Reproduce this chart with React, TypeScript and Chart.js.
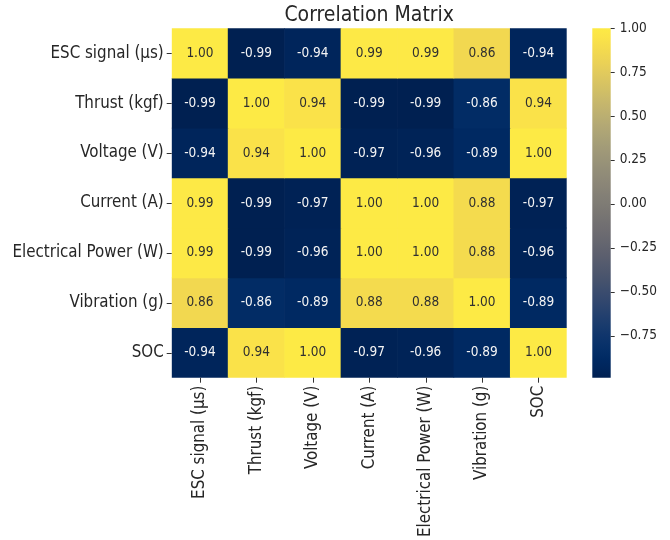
import React, { useEffect, useRef } from "react";
import { Chart, registerables } from "chart.js";

Chart.register(...registerables);

// ---------- data ----------
const chartTitle = "Correlation Matrix";
const rowLabels = [
  "ESC signal (μs)",
  "Thrust (kgf)",
  "Voltage (V)",
  "Current (A)",
  "Electrical Power (W)",
  "Vibration (g)",
  "SOC",
];
const colLabels = [
  "ESC signal (μs)",
  "Thrust (kgf)",
  "Voltage (V)",
  "Current (A)",
  "Electrical Power (W)",
  "Vibration (g)",
  "SOC",
];
const escRow = [1.0, -0.99, -0.94, 0.99, 0.99, 0.86, -0.94];
const thrustRow = [-0.99, 1.0, 0.94, -0.99, -0.99, -0.86, 0.94];
const voltageRow = [-0.94, 0.94, 1.0, -0.97, -0.96, -0.89, 1.0];
const currentRow = [0.99, -0.99, -0.97, 1.0, 1.0, 0.88, -0.97];
const powerRow = [0.99, -0.99, -0.96, 1.0, 1.0, 0.88, -0.96];
const vibrationRow = [0.86, -0.86, -0.89, 0.88, 0.88, 1.0, -0.89];
const socRow = [-0.94, 0.94, 1.0, -0.97, -0.96, -0.89, 1.0];
const matrix = [escRow, thrustRow, voltageRow, currentRow, powerRow, vibrationRow, socRow];
const colorbarTicks = [-0.75, -0.5, -0.25, 0.0, 0.25, 0.5, 0.75, 1.0];
const vmin = -0.99;
const vmax = 1.0;

// ---------- styles ----------
const FONT = "'DejaVu Sans Condensed', 'DejaVu Sans', sans-serif";
const TEXT = "#262626";
const TICK = "#333333";

function cividisRGB(t: number): [number, number, number] {
  t = Math.max(0, Math.min(1, t));
  const r = Math.max(0, Math.min(255, Math.round(-4.54 - t * (35.34 - t * (2381.73 - t * (6402.7 - t * (7024.72 - t * 2710.57)))))));
  const g = Math.max(0, Math.min(255, Math.round(32.49 + t * (170.73 + t * (52.82 - t * (131.46 - t * (176.58 - t * 67.37)))))));
  const b = Math.max(0, Math.min(255, Math.round(81.24 + t * (442.36 - t * (2482.43 - t * (6167.24 - t * (6614.94 - t * 2475.67)))))));
  return [r, g, b];
}
function norm(v: number) {
  return (v - vmin) / (vmax - vmin);
}
function colorFor(v: number) {
  const [r, g, b] = cividisRGB(norm(v));
  return `rgb(${r},${g},${b})`;
}
function textColorFor(v: number) {
  const [r, g, b] = cividisRGB(norm(v)).map((c) => {
    const s = c / 255;
    return s <= 0.03928 ? s / 12.92 : Math.pow((s + 0.055) / 1.055, 2.4);
  });
  const lum = 0.2126 * r + 0.7152 * g + 0.0722 * b;
  return lum > 0.408 ? "#303030" : "#f4f4f4";
}
function fmtTick(v: number) {
  return v.toFixed(2).replace("-", "\u2212");
}

const annotPlugin = {
  id: "annot",
  afterDatasetsDraw(chart: any) {
    const ctx = chart.ctx;
    ctx.save();
    ctx.font = `13.5px ${FONT}`;
    ctx.textAlign = "center";
    ctx.textBaseline = "middle";
    chart.data.datasets.forEach((_ds: any, r: number) => {
      const meta = chart.getDatasetMeta(r);
      meta.data.forEach((el: any, c: number) => {
        const v = matrix[r][c];
        const p = el.getCenterPoint();
        ctx.fillStyle = textColorFor(v);
        ctx.fillText(v.toFixed(2), p.x, p.y);
      });
    });
    ctx.restore();
  },
};

// draws the small tick marks at each tick of each visible scale
const tickMarkPlugin = {
  id: "tickMarks",
  afterDraw(chart: any) {
    const ctx = chart.ctx;
    ctx.save();
    ctx.strokeStyle = TICK;
    ctx.lineWidth = 1;
    Object.values(chart.scales).forEach((s: any) => {
      if (!s.options.display) return;
      const len = s.options.grid.tickLength;
      s.ticks.forEach((_t: any, i: number) => {
        const p = Math.round(s.getPixelForTick(i)) + 0.5;
        ctx.beginPath();
        if (s.position === "left") {
          ctx.moveTo(s.right - len, p);
          ctx.lineTo(s.right, p);
        } else if (s.position === "right") {
          ctx.moveTo(s.left, p);
          ctx.lineTo(s.left + len, p);
        } else if (s.position === "bottom") {
          ctx.moveTo(p, s.top);
          ctx.lineTo(p, s.top + len);
        }
        ctx.stroke();
      });
    });
    ctx.restore();
  },
};

const tickGrid = {
  display: true,
  drawOnChartArea: false,
  drawTicks: true,
  tickLength: 5,
  color: "rgba(0,0,0,0)",
  tickColor: "rgba(0,0,0,0)",
};

export default function App() {
  const heatRef = useRef<HTMLCanvasElement | null>(null);
  const cbRef = useRef<HTMLCanvasElement | null>(null);

  useEffect(() => {
    const heat = new Chart(heatRef.current!, {
      type: "bar",
      data: {
        labels: colLabels,
        datasets: matrix.map((row, r) => ({
          label: rowLabels[r],
          data: row.map(() => [r, r + 1]),
          backgroundColor: row.map((v) => colorFor(v)),
          borderWidth: 0,
          borderSkipped: false,
          grouped: false,
          categoryPercentage: 1,
          barPercentage: 1,
        })) as any,
      },
      options: {
        animation: false,
        responsive: true,
        maintainAspectRatio: false,
        layout: { padding: { left: 0, right: 103.3, top: 0, bottom: 0 } },
        plugins: {
          legend: { display: false },
          tooltip: { enabled: false },
          title: {
            display: true,
            text: chartTitle,
            fullSize: false,
            color: TEXT,
            font: { family: FONT, size: 21, weight: "normal" },
            padding: { top: 3, bottom: 0.1 },
          },
        },
        scales: {
          x: {
            type: "category",
            offset: true,
            grid: { ...tickGrid, offset: false },
            border: { display: false },
            ticks: { minRotation: 90, maxRotation: 90, autoSkip: false, color: TEXT, padding: 3, font: { family: FONT, size: 16.8 } },
            afterFit: (s: any) => {
              s.height = 162.3;
            },
          },
          y: {
            type: "linear",
            min: 0,
            max: rowLabels.length,
            reverse: true,
            afterBuildTicks: (s: any) => {
              s.ticks = rowLabels.map((_l, i) => ({ value: i + 0.5 }));
            },
            grid: { ...tickGrid },
            border: { display: false },
            ticks: {
              color: TEXT,
              padding: 3,
              font: { family: FONT, size: 16.8 },
              callback: (_v: any, i: number) => rowLabels[i],
            },
            afterFit: (s: any) => {
              s.width = 171.7;
            },
          },
        },
      } as any,
      plugins: [annotPlugin, tickMarkPlugin],
    });

    const cb = new Chart(cbRef.current!, {
      type: "bar",
      data: {
        labels: ["colorbar"],
        datasets: [
          {
            data: [[vmin, vmax]] as any,
            backgroundColor: (ctx: any) => {
              const chart = ctx.chart;
              if (!chart.chartArea) return colorFor(vmax);
              const ys = chart.scales.y;
              const g = chart.ctx.createLinearGradient(0, ys.getPixelForValue(vmin), 0, ys.getPixelForValue(vmax));
              for (let i = 0; i <= 40; i++) {
                const [r, gg, b] = cividisRGB(i / 40);
                g.addColorStop(i / 40, `rgb(${r},${gg},${b})`);
              }
              return g;
            },
            borderWidth: 0,
            borderSkipped: false,
            categoryPercentage: 1,
            barPercentage: 1,
          },
        ],
      },
      options: {
        animation: false,
        responsive: true,
        maintainAspectRatio: false,
        layout: { padding: { left: 32.3, right: 0, top: 28.3, bottom: 162.3 } },
        plugins: { legend: { display: false }, tooltip: { enabled: false } },
        scales: {
          x: { display: false },
          y: {
            position: "right",
            min: vmin,
            max: vmax,
            afterBuildTicks: (s: any) => {
              s.ticks = colorbarTicks.map((v) => ({ value: v }));
            },
            grid: { ...tickGrid, tickLength: 4 },
            border: { display: false },
            ticks: {
              color: TEXT,
              padding: 5,
              font: { family: FONT, size: 13.5 },
              callback: (v: any) => fmtTick(Number(v)),
            },
            afterFit: (s: any) => {
              s.width = 59.3;
            },
          },
        },
      } as any,
      plugins: [tickMarkPlugin],
    });

    return () => {
      heat.destroy();
      cb.destroy();
    };
  }, []);

  return (
    <div style={{ position: "absolute", left: 0, top: 0, width: 670, height: 540, background: "#ffffff" }}>
      <div style={{ position: "absolute", left: 0, top: 0, width: 670, height: 540 }}>
        <canvas ref={heatRef} />
      </div>
      <div style={{ position: "absolute", left: 560, top: 0, width: 110, height: 540 }}>
        <canvas ref={cbRef} />
      </div>
    </div>
  );
}
